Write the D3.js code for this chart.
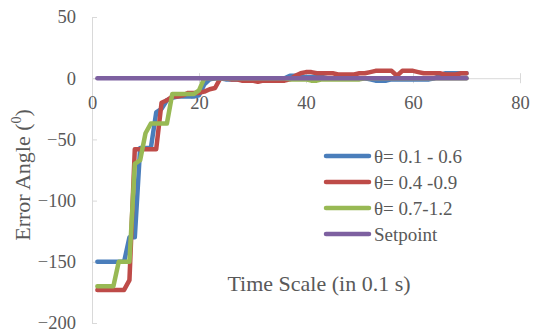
<!DOCTYPE html>
<html><head><meta charset="utf-8">
<script src="https://cdn.jsdelivr.net/npm/d3@7"></script>
<style>body{margin:0;background:#fff}svg{display:block}text{font-family:"Liberation Serif","DejaVu Serif",serif;fill:#595959}</style>
</head><body><div id="chart"></div>
<script>
const time = d3.range(1, 71);
const blue = [-150,-150,-150,-150,-150,-150,-130,-130,-57,-57,-57,-28,-25,-18,-16,-15,-15,-15,-15,-14,
 -5,-1,0,0,-1,-1,-1,-1,0,0, 0,0,0,0,0,0,2,2,1,1, 1,1,1,0,0,0,0,0,0,0,
 0,-1,-2,-2,-2,-1,-1,-1,-1,-1, -1,-1,-1,0,2,4,4,4,4,4];
const red = [-173,-173,-173,-173,-173,-173,-165,-58,-58,-58,-58,-58,-20,-18,-15,-15,-14,-12,-12,-12,
 -11,-9,-8,0,0,-1,-1,-2,-2,-2, -3,-2,-2,-2,-2,-2,-1,2,4,5, 5,4,4,4,4,3,3,3,3,4,
 4,5,6,6,6,6,2,6,6,6, 5,4,4,4,4,3,3,3,4,4];
const green = [-170,-170,-170,-170,-150,-150,-150,-70,-67,-45,-37,-37,-37,-37,-13,-13,-13,-13,-13,-10,
 0,0,0,0,0,0,0,0,0,0, 0,0,0,0,0,0,-1,-1,-1,-1, -2,-2,-1,-1,-1,-1,-1,-1,-1,-1,
 0,0,0,0,0,0,0,0,0,0, 0,0,0,0,0,0,0,0,0,0];
const setpoint = time.map(() => 0);
const seriesNames = ["θ= 0.1 - 0.6", "θ= 0.4 -0.9", "θ= 0.7-1.2", "Setpoint"];
const seriesColors = ["#4a7ebb", "#be4b48", "#98b954", "#7d60a0"];
const xTicks = [0, 20, 40, 60, 80];
const yTicks = [50, 0, -50, -100, -150, -200];

const W = 535, H = 332;
const svg = d3.select("#chart").append("svg").attr("width", W).attr("height", H);
const x = d3.scaleLinear().domain([0, 80]).range([92, 520]);
const y = d3.scaleLinear().domain([-200, 50]).range([323, 17]);
const axisColor = "#d9d9d9";

// y axis
const ya = svg.append("g").attr("transform", `translate(${x(0)},0)`)
  .call(d3.axisLeft(y).tickValues(yTicks).tickSizeInner(6).tickSizeOuter(0).tickPadding(10))
  .attr("font-family", null);
ya.select(".domain").attr("stroke", axisColor);
ya.selectAll(".tick line").attr("stroke", axisColor).attr("x2", 5);
ya.selectAll(".tick text").attr("font-size", 18.5).attr("fill", "#595959");

// x axis at y=0
const xa = svg.append("g").attr("transform", `translate(0,${y(0)})`)
  .call(d3.axisBottom(x).tickValues(xTicks).tickSizeInner(5).tickSizeOuter(0).tickPadding(13))
  .attr("font-family", null);
xa.select(".domain").attr("stroke", axisColor);
xa.selectAll(".tick line").attr("stroke", axisColor).attr("y1", -5);
xa.selectAll(".tick text").attr("font-size", 18.5).attr("fill", "#595959");

const data = [blue, red, green, setpoint];
const line = d3.line().x((d, i) => x(time[i])).y(d => y(d));
data.forEach((s, k) => {
  svg.append("path").datum(s).attr("d", line).attr("fill", "none")
    .attr("stroke", seriesColors[k]).attr("stroke-width", 4.5)
    .attr("stroke-linejoin", "round").attr("stroke-linecap", "round");
});

// legend
const lg = svg.append("g");
seriesNames.forEach((n, k) => {
  const yy = 156 + k * 26;
  lg.append("line").attr("x1", 326).attr("x2", 369).attr("y1", yy).attr("y2", yy)
    .attr("stroke", seriesColors[k]).attr("stroke-width", 4.5).attr("stroke-linecap", "round");
  lg.append("text").attr("x", 374).attr("y", yy).attr("dy", "0.35em").attr("font-size", 19).text(n);
});

// axis titles
svg.append("text").attr("x", 319).attr("y", 283).attr("dy", "0.35em").attr("text-anchor", "middle")
  .attr("font-size", 22).text("Time Scale (in 0.1 s)");
const yt = svg.append("text").attr("transform", "translate(22,175) rotate(-90)")
  .attr("text-anchor", "middle").attr("dy", "0.35em").attr("font-size", 22);
yt.append("tspan").text("Error Angle (");
yt.append("tspan").attr("font-size", 14).attr("dy", "-0.6em").text("0");
yt.append("tspan").attr("dy", "0.4em").text(")");
</script></body></html>
